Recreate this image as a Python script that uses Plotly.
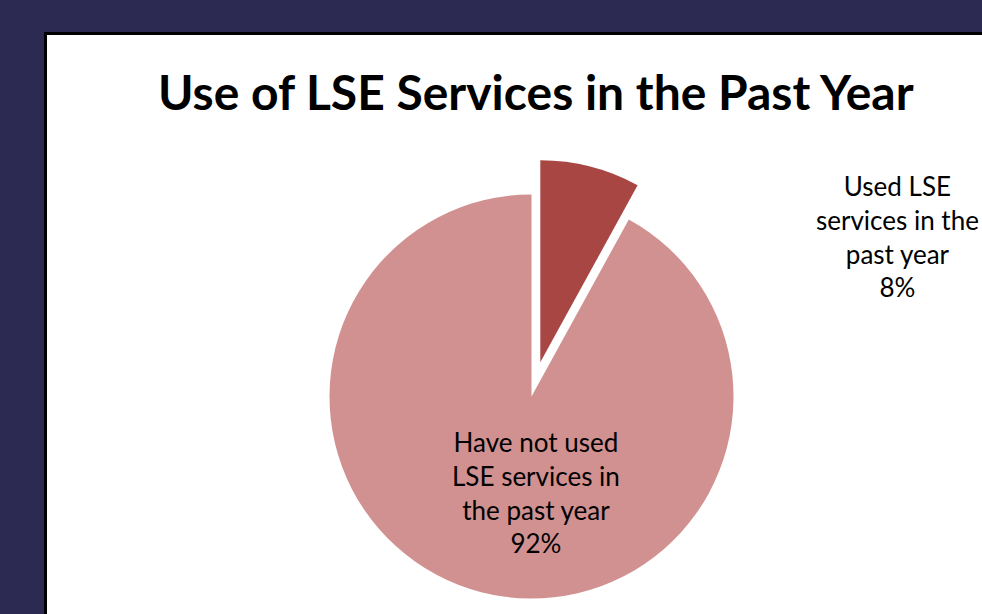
import plotly.graph_objects as go

# Data
labels = ["Used LSE services in the past year", "Have not used LSE services in the past year"]
label_lines = [["Used LSE", "services in the", "past year"], ["Have not used", "LSE services in", "the past year"]]
values = [8, 92]
colors = ["#A84644", "#D19190"]
pulls = [0.175, 0]
title_text = "Use of LSE Services in the Past Year"

W, H = 982, 660
FONT = "Lato, 'Open Sans', sans-serif"

def px_x(x):
    return x / W

def px_y(y):
    return 1 - y / H

fig = go.Figure()
fig.add_trace(go.Pie(
    labels=labels,
    values=values,
    sort=False,
    direction="clockwise",
    rotation=0,
    pull=pulls,
    marker=dict(colors=colors, line=dict(width=0)),
    textinfo="none",
    hoverinfo="label+percent",
    showlegend=False,
    domain=dict(x=[294.15 / W, 768.85 / W], y=[px_y(633.85), px_y(159.15)]),
))

total = sum(values)
pcts = [f"{round(v / total * 100)}%" for v in values]
label_pos = [(897, 236), (536, 492)]
for lines, pct, (lx, ly) in zip(label_lines, pcts, label_pos):
    fig.add_annotation(
        x=px_x(lx), y=px_y(ly), xref="paper", yref="paper",
        text="<br>".join(lines + [pct]), showarrow=False,
        font=dict(family=FONT, size=26, color="#000000"),
        align="center", xanchor="center", yanchor="middle",
    )

fig.add_annotation(
    x=px_x(536), y=px_y(91), xref="paper", yref="paper",
    text=f"<b>{title_text}</b>", showarrow=False,
    font=dict(family=FONT, size=48, color="#000000"),
    xanchor="center", yanchor="middle",
)

fig.update_layout(
    width=W, height=H,
    margin=dict(l=0, r=0, t=0, b=0),
    paper_bgcolor="#2C2A52",
    plot_bgcolor="#2C2A52",
    shapes=[dict(
        type="rect", xref="paper", yref="paper",
        x0=px_x(45.5), x1=1.05, y0=-0.1, y1=px_y(33.5),
        fillcolor="#FFFFFF", line=dict(color="#000000", width=3),
        layer="below",
    )],
)

fig.write_html("out.html", post_script="document.body.style.overflow='hidden';document.body.style.margin='0';")
